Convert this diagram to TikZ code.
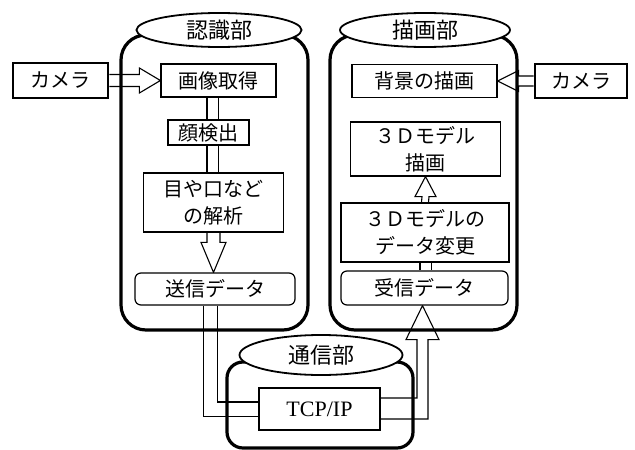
\documentclass[tikz,border=0pt]{standalone}
\usepackage{fontspec}
\setmainfont{Liberation Serif}
\newfontfamily\jpfam{Noto Sans CJK JP}
\usetikzlibrary{calc,shapes.geometric}
\newcommand\jpbox{\jpfam\fontsize{20}{27}\selectfont}
\newcommand\jplab{\jpfam\fontsize{22}{26}\selectfont}
\pgfdeclarelayer{pipes}
\pgfdeclarelayer{conts}
\pgfsetlayers{pipes,conts,main}
\begin{document}
\begin{tikzpicture}[x=1pt,y=-1pt,
  box/.style={draw, line width=1.2pt, fill=white, inner sep=0pt, align=center, font=\jpbox},
  cambox/.style={box, line width=2.6pt},
  rbox/.style={box, rounded corners=6pt},
  cont/.style={draw, line width=3.2pt, rounded corners=25pt},
  lab/.style={draw, ellipse, line width=1.8pt, fill=white, inner sep=0pt, font=\jplab},
  pipe/.style={draw, double=white, double distance=10pt, line width=1.1pt},
  harrow/.style={draw, fill=white, line width=1.1pt, line join=miter},
]
\useasboundingbox (0,0) rectangle (635,450);

% section labels
\node[lab, minimum width=165, minimum height=34] (labL) at (219,30) {認識部};
\node[lab, minimum width=170, minimum height=34] (labR) at (425,30) {描画部};
\node[lab, minimum width=163, minimum height=40] (labC) at (321,355) {通信部};

% boxes
\node[cambox, minimum width=95, minimum height=35] (cam1) at (60.5,80.5) {カメラ};
\node[box, minimum width=115, minimum height=33] (img) at (218.5,80.5) {画像取得};
\node[box, minimum width=81, minimum height=25] (face) at (208.5,132.5) {顔検出};
\node[box, minimum width=140, minimum height=59] (ana) at (213.5,202.5) {目や口など\\の解析};
\node[rbox, minimum width=160, minimum height=32] (send) at (215,289) {送信データ};

\node[box, minimum width=145, minimum height=33] (bg) at (424.5,81) {背景の描画};
\node[cambox, minimum width=92, minimum height=34] (cam2) at (581,81) {カメラ};
\node[box, minimum width=150, minimum height=54] (d3) at (425.5,149) {３Ｄモデル\\描画};
\node[box, minimum width=168, minimum height=59] (chg) at (425,232.5) {３Ｄモデルの\\データ変更};
\node[rbox, minimum width=167, minimum height=34] (recv) at (424.5,288) {受信データ};

\node[box, minimum width=121, minimum height=42, font=\fontsize{22}{25}\selectfont] (tcp) at (319.5,409) {TCP/IP};

% containers
\begin{pgfonlayer}{conts}
\draw[cont] (121,35) rectangle (308,330);
\draw[cont] (330,35) rectangle (517,330);
\draw[cont, rounded corners=16pt] (227,362) rectangle (413,448);
\end{pgfonlayer}

% connectors
\begin{pgfonlayer}{pipes}
\draw[pipe] ([xshift=-6pt]img.south) -- ([xshift=-6pt]img.south |- face.north);
\draw[pipe] ([xshift=-6pt]img.south |- face.south) -- ([xshift=-6pt]img.south |- ana.north);
\draw[pipe] ([xshift=0.5pt]chg.south) -- ([xshift=0.5pt]chg.south |- recv.north);
\draw[pipe, double distance=13pt] ([xshift=-4.5pt]send.south) |- (tcp.west);

% camera -> image acquisition
\draw[harrow] ($(cam1.east)+(0,-6)$) -- ($(img.west)+(-21,-6)$) -- ($(img.west)+(-21,-12.5)$)
  -- (img.west) -- ($(img.west)+(-21,12.5)$) -- ($(img.west)+(-21,6)$) -- ($(cam1.east)+(0,6)$);
% camera -> background drawing
\draw[harrow] ($(cam2.west)+(0,-5)$) -- ($(bg.east)+(21,-5)$) -- ($(bg.east)+(21,-10.5)$)
  -- (bg.east) -- ($(bg.east)+(21,10.5)$) -- ($(bg.east)+(21,5)$) -- ($(cam2.west)+(0,5)$);
% analysis -> send data
\coordinate (t1) at (ana.south |- send.north);
\draw[harrow] ($(ana.south)+(-6.5,0)$) -- ($(t1)+(-6.5,-30)$) -- ($(t1)+(-12.5,-30)$)
  -- (t1) -- ($(t1)+(12.5,-30)$) -- ($(t1)+(6.5,-30)$) -- ($(ana.south)+(6.5,0)$);
% data change -> 3D drawing
\draw[harrow] ($(chg.north)+(-3.5,0)$) -- ($(d3.south)+(-3.5,20)$) -- ($(d3.south)+(-10.5,20)$)
  -- (d3.south) -- ($(d3.south)+(10.5,20)$) -- ($(d3.south)+(3.5,20)$) -- ($(chg.north)+(3.5,0)$);
% TCP/IP -> receive data
\coordinate (t2) at ([xshift=-2pt]recv.south);
\coordinate (hl) at ($(t2)+(-5.5,34)$);
\coordinate (hr) at ($(t2)+(5.5,34)$);
\coordinate (u) at ($(tcp.east)+(0,-11)$);
\coordinate (l) at ($(tcp.east)+(0,10)$);
\draw[harrow] (u) -- (u -| hl) -- (hl) -- ($(t2)+(-16.5,34)$) -- (t2)
  -- ($(t2)+(16.5,34)$) -- (hr) -- (l -| hr) -- (l);
\end{pgfonlayer}
\end{tikzpicture}
\end{document}
